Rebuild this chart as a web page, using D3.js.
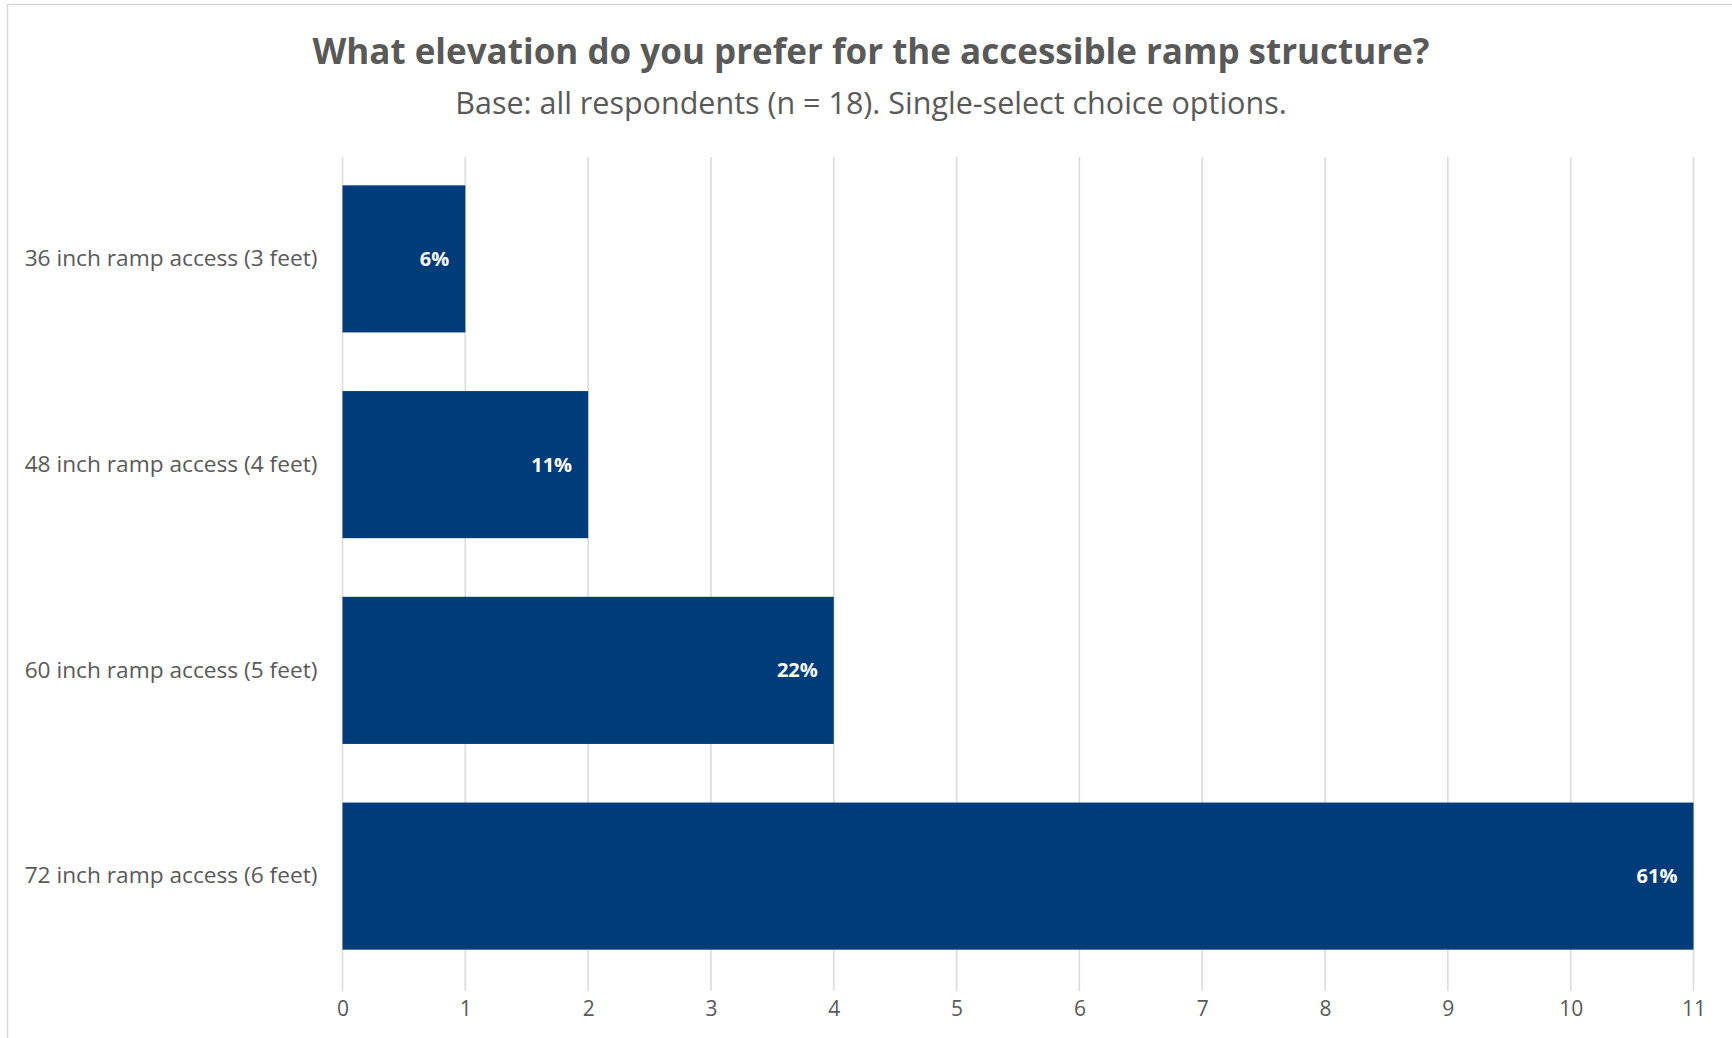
<!DOCTYPE html>
<html>
<head>
<meta charset="utf-8">
<script src="https://cdn.jsdelivr.net/npm/d3@7"></script>
<style>
  html, body { margin: 0; padding: 0; background: #fff; }
  svg { display: block; font-family: "Open Sans", "Noto Sans", sans-serif; }
</style>
</head>
<body>
<svg id="chart" width="1732" height="1038"></svg>
<script>
// Survey responses: preferred elevation of the accessible ramp structure
const titleText = "What elevation do you prefer for the accessible ramp structure?";
const subtitleText = "Base: all respondents (n = 18). Single-select choice options.";
const respondents = 18;
const categories = [
  "36 inch ramp access (3 feet)",
  "48 inch ramp access (4 feet)",
  "60 inch ramp access (5 feet)",
  "72 inch ramp access (6 feet)"
];
const counts = [1, 2, 4, 11];
const tickValues = [0, 1, 2, 3, 4, 5, 6, 7, 8, 9, 10, 11];

const svg = d3.select("#chart");
const W = 1732, H = 1038;
const plot = { left: 342.5, right: 1693.5, top: 157, bottom: 991 };
const barColor = "#003b7a";
const textColor = "#595959";
const gridColor = "#d9d9d9";

// outer chart-area frame
svg.append("rect")
  .attr("x", 7.5).attr("y", 4.5)
  .attr("width", W + 10).attr("height", H + 10)
  .attr("fill", "none").attr("stroke", gridColor).attr("stroke-width", 1.5);

svg.append("text")
  .attr("x", 871).attr("y", 64)
  .attr("text-anchor", "middle")
  .attr("fill", textColor)
  .style("font-size", "35px").style("font-weight", 700)
  .text(titleText);

svg.append("text")
  .attr("x", 871).attr("y", 114)
  .attr("text-anchor", "middle")
  .attr("fill", textColor)
  .style("font-size", "30.5px")
  .text(subtitleText);

const x = d3.scaleLinear().domain([0, 11]).range([plot.left, plot.right]);
const y = d3.scaleBand().domain(categories).range([156, 979])
  .paddingInner(0.285).paddingOuter(0.1425);

// vertical gridlines
svg.append("g").selectAll("line").data(tickValues).join("line")
  .attr("x1", d => x(d)).attr("x2", d => x(d))
  .attr("y1", plot.top).attr("y2", plot.bottom)
  .attr("stroke", gridColor).attr("stroke-width", 1.5);

// bars
svg.append("g").selectAll("rect").data(counts).join("rect")
  .attr("x", x(0))
  .attr("y", (d, i) => y(categories[i]))
  .attr("width", d => x(d) - x(0))
  .attr("height", y.bandwidth())
  .attr("fill", barColor);

// percentage labels inside the bar ends
svg.append("g").selectAll("text").data(counts).join("text")
  .attr("x", d => x(d) - 16)
  .attr("y", (d, i) => y(categories[i]) + y.bandwidth() / 2)
  .attr("dy", "0.35em")
  .attr("text-anchor", "end")
  .attr("fill", "#fff")
  .style("font-size", "20px").style("font-weight", 700)
  .text(d => d3.format(".0%")(d / respondents));

// category axis labels
const yAxis = d3.axisLeft(y).tickSize(0).tickPadding(25);
const gy = svg.append("g").attr("transform", `translate(${plot.left},0)`).call(yAxis);
gy.select(".domain").remove();
gy.selectAll("text")
  .attr("fill", textColor)
  .style("font-size", "22.7px")
  .style("font-family", "'Open Sans', 'Noto Sans', sans-serif");

// value axis
const xAxis = d3.axisBottom(x).tickValues(tickValues).tickSize(0).tickPadding(10).tickFormat(d3.format("d"));
const gx = svg.append("g").attr("transform", `translate(0,${plot.bottom})`).call(xAxis);
gx.select(".domain").remove();
gx.selectAll("text")
  .attr("fill", textColor)
  .style("font-size", "21px")
  .style("font-family", "'Open Sans', 'Noto Sans', sans-serif");
</script>
</body>
</html>
